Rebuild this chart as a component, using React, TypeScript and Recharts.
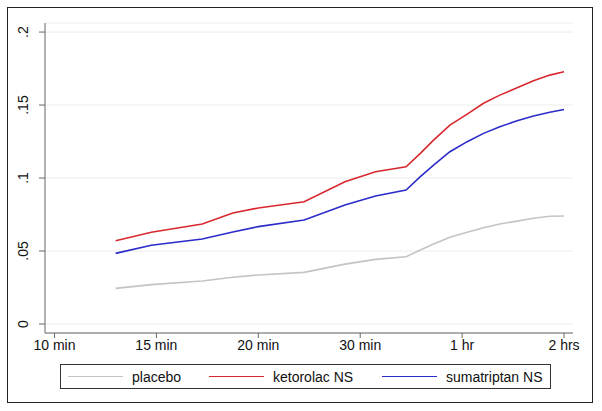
import { CartesianGrid, Line, LineChart, XAxis, YAxis } from "recharts";

const xLabels = ["10 min", "15 min", "20 min", "30 min", "1 hr", "2 hrs"];
const xTicks = [0, 1, 2, 3, 4, 5];
const yTicks = [0, 0.05, 0.1, 0.15, 0.2];
const yLabels = ["0", ".05", ".1", ".15", ".2"];

const times = [0.6, 0.95, 1.45, 1.75, 2.0, 2.45, 2.85, 3.15, 3.45, 3.59, 3.72, 3.88, 4.05, 4.21, 4.37, 4.54, 4.7, 4.86, 5.0];
const placebo = [0.0244, 0.027, 0.0295, 0.032, 0.0336, 0.0354, 0.041, 0.0443, 0.0461, 0.0507, 0.0548, 0.0594, 0.0628, 0.066, 0.0685, 0.0705, 0.0724, 0.0738, 0.074];
const ketorolac = [0.057, 0.0628, 0.0685, 0.076, 0.0795, 0.0838, 0.0975, 0.1043, 0.1077, 0.1169, 0.126, 0.1363, 0.1438, 0.1512, 0.1568, 0.1618, 0.1666, 0.1705, 0.1728];
const sumatriptan = [0.0484, 0.054, 0.0582, 0.063, 0.0667, 0.0712, 0.0815, 0.0877, 0.0918, 0.1009, 0.1089, 0.118, 0.1249, 0.1306, 0.1351, 0.1392, 0.1425, 0.145, 0.147];

const seriesNames = ["placebo", "ketorolac NS", "sumatriptan NS"];
const seriesColors = ["#c4c4c4", "#d8282f", "#2b2bc8"];

const data = times.map((t, i) => ({
  t,
  placebo: placebo[i],
  ketorolac: ketorolac[i],
  sumatriptan: sumatriptan[i],
}));

const font = "'Liberation Sans', Arial, sans-serif";

function YTick(props: any) {
  const { x, y, payload } = props;
  const idx = yTicks.indexOf(payload.value);
  return (
    <text
      x={x - 9}
      y={y}
      transform={`rotate(-90 ${x - 9} ${y})`}
      textAnchor="middle"
      fontSize={14}
      fontFamily={font}
      fill="#111"
    >
      {yLabels[idx]}
    </text>
  );
}

export default function App() {
  return (
    <div style={{ position: "absolute", left: 0, top: 0, width: 602, height: 411, background: "#fff" }}>
      <div
        style={{
          position: "absolute",
          left: 7,
          top: 7,
          width: 584,
          height: 394,
          border: "1.5px solid #222",
        }}
      />
      <LineChart
        width={602}
        height={411}
        data={data}
        margin={{ top: 23, right: 29, bottom: 48, left: 5 }}
        style={{ position: "absolute", left: 0, top: 0 }}
      >
        <CartesianGrid vertical={false} stroke="#ececec" strokeWidth={1} />
        <XAxis
          dataKey="t"
          type="number"
          domain={[-0.093, 5.088]}
          ticks={xTicks}
          tickFormatter={(v: number) => xLabels[v]}
          height={30}
          tickSize={5}
          tickMargin={2}
          stroke="#666"
          tick={{ fontSize: 14, fontFamily: font, fill: "#111" }}
          interval={0}
        />
        <YAxis
          type="number"
          domain={[-0.00616, 0.2062]}
          ticks={yTicks}
          width={40}
          tickSize={6}
          stroke="#666"
          tick={<YTick />}
          interval={0}
        />
        <Line dataKey="placebo" stroke={seriesColors[0]} strokeWidth={1.6} dot={false} isAnimationActive={false} type="linear" />
        <Line dataKey="ketorolac" stroke={seriesColors[1]} strokeWidth={1.6} dot={false} isAnimationActive={false} type="linear" />
        <Line dataKey="sumatriptan" stroke={seriesColors[2]} strokeWidth={1.6} dot={false} isAnimationActive={false} type="linear" />
      </LineChart>
      <div
        style={{
          position: "absolute",
          left: 60,
          top: 364,
          width: 489,
          height: 23,
          border: "1px solid #333",
          fontFamily: font,
          fontSize: 14,
          color: "#111",
        }}
      >
        {seriesNames.map((name, i) => (
          <div
            key={name}
            style={{
              position: "absolute",
              left: [7, 148, 321][i],
              top: 0,
              height: 23,
              display: "flex",
              alignItems: "center",
              whiteSpace: "nowrap",
            }}
          >
            <span style={{ display: "inline-block", width: 55, height: 0, borderTop: `1.6px solid ${seriesColors[i]}`, marginRight: 9 }} />
            <span>{name}</span>
          </div>
        ))}
      </div>
    </div>
  );
}
